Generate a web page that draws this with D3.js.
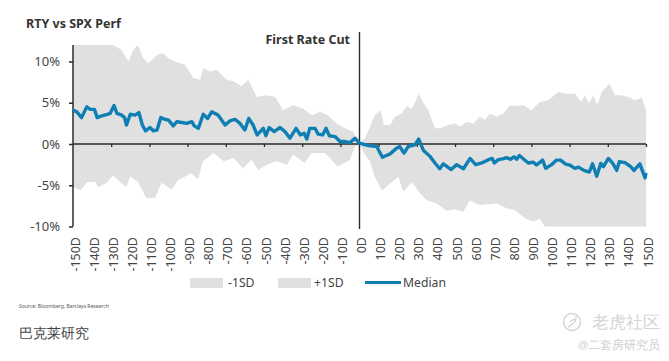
<!DOCTYPE html>
<html>
<head>
<meta charset="utf-8">
<script src="https://cdnjs.cloudflare.com/ajax/libs/d3/7.8.5/d3.min.js"></script>
<style>
  html, body { margin: 0; padding: 0; background: #fff; }
  text { font-family: "Noto Sans", "Open Sans", sans-serif; }
</style>
</head>
<body>
<div id="chart"></div>
<script>
// values, in % against days from the first cut
const medianDays = [-150,-148,-145.5,-142.8,-141,-138.8,-137.3,-135,-132,-130.6,-128.5,-127,-124.5,-123,-122,-120,-117.5,-115.5,-113.7,-112,-109.7,-108,-106,-104,-102,-100,-97.5,-95.7,-93,-90.5,-87.8,-86.5,-84.4,-81.8,-79.5,-77.4,-74,-70.4,-67.8,-65.2,-62.6,-60,-58,-55.7,-53.6,-50.4,-49,-47.3,-44.7,-41.6,-39,-36.4,-33.2,-31,-29,-27.6,-26,-23.3,-21.7,-19.3,-17.5,-15.8,-12.8,-10.2,-7.6,-5,-2.4,0,4.6,9,12,16,19.5,21,23.3,25.5,29,31,33.4,36.9,39.5,42,43.9,48,50.9,54.4,57.9,60.8,64,67.5,69.5,70.6,72.7,75,77,79,80.9,82.3,83.7,86,88.4,91,92.7,95.9,97.5,100.6,103.2,105.3,107.6,110,112.8,114.6,117.5,120.3,122,124.2,126.3,127.7,130.3,132.6,134.7,136,139,142,143.7,146.8,149.5,150];
const medianVals = [4.1,3.9,3.2,4.5,4.2,4.2,3.2,3.4,3.6,3.7,4.65,3.7,3.5,3.2,2.3,3.6,3.5,3.8,2.3,1.6,2,1.6,1.7,3.2,3,2.9,2.2,2.7,2.6,2.5,2.7,2.2,1.9,3.6,3.1,3.9,3.5,2.3,2.8,3,2.5,1.7,3.1,2.3,1.1,1.9,1,2,1.5,2,1.5,0.7,1.9,1.1,1.3,0.6,1.9,1.9,1.2,1.1,1.9,1,0.9,0.3,0.3,0.15,0.7,0.1,-0.2,-0.3,-1.6,-1.2,-0.5,-0.3,-1.1,-0.3,-0.1,0.6,-0.75,-1.5,-2.3,-3,-2.4,-3.1,-2.5,-3,-1.75,-2.5,-2.3,-1.9,-1.75,-2.3,-1.9,-1.8,-1.65,-1.85,-1.55,-1.85,-1.4,-1.85,-2.3,-2.2,-2.55,-1.95,-2.95,-2.5,-1.95,-1.95,-2.4,-2.55,-2.95,-2.8,-3.2,-3.4,-2.4,-3.9,-2.35,-2.75,-1.75,-2.35,-3.2,-2.15,-2.25,-2.75,-3.2,-2.4,-4.1,-3.5];

const plusDays = [-150,-129,-124.5,-121,-118.5,-116,-113.2,-110.6,-106,-102.8,-100,-96.6,-91.3,-87,-83.4,-81.8,-78.2,-74.8,-69.5,-66,-61.7,-58.3,-53.8,-48.6,-44.2,-40,-34.8,-29.5,-25,-20.7,-16.5,-12,-7.6,-3.3,0,2.9,5.5,8,11,12.8,16,18.6,22,24.7,27.3,29,31,33.4,36,39.5,42,46.5,50,52.6,56,59.6,63,65.7,68.3,71.8,75.3,78.8,82.3,85.8,90,94.5,98.9,104,108.5,112.8,116,118,120,122.4,124.5,126.8,130.8,133.8,137,140.8,144.3,147.8,150];
const plusVals = [12,12,11.4,10,11.4,12,10.4,9.8,10.8,11,10.4,10,9.6,8,7.8,9.2,8.8,9,7.8,7.6,7,7.8,5.7,5.9,5.7,4.1,4.7,4.3,3.5,3.9,3.5,2.5,1.9,1.5,0.1,0.7,2.1,3.5,4.1,2.3,2.3,3.3,3.7,4.6,4.3,5,6.1,5,4.1,1.9,1.9,2.3,2.5,2.1,2.7,2.5,3.3,2.9,3.7,3.3,3.7,4.7,4.6,4.7,4.1,5.1,5.3,6.3,6.1,6.1,5.1,5.9,4.9,5.9,4.7,6.3,7.3,5.9,5.9,5.7,5.3,5.6,4.1];

const minusDays = [-150,-146,-142.5,-138.4,-136.7,-132.4,-129,-125.4,-122,-120,-116,-111.5,-107,-103.6,-98.4,-95,-88,-84.5,-82,-76.5,-71,-66,-61,-56.5,-53,-48.6,-43.4,-38,-34.8,-28.7,-25,-18,-11.3,-5,-2.4,0,2.9,5.5,8,11.9,16,20.3,23,27.3,31.7,35,40.4,45.6,50,54.3,57.8,63,71.8,77,81.4,86.6,91,94.5,97,150];
const minusVals = [-5.2,-5.6,-4.6,-4.6,-5.25,-4.7,-3.8,-4.6,-5.2,-3.9,-4.6,-6.6,-6.5,-4.7,-5.5,-4.4,-3.55,-4.3,-2.1,-1.1,-2.1,-1.7,-2.95,-1.9,-3.15,-2.5,-2.1,-2.5,-1.3,-2.3,-1.1,-1.1,-2.75,-1.9,-0.3,0,-1.3,-2.1,-4,-5.65,-4.8,-4,-5.8,-4.6,-6,-6.8,-7.2,-8.1,-7.9,-8.2,-6.85,-7.4,-7.2,-7.8,-8,-9,-9.4,-9.1,-10,-10];

const yTicks = [10, 5, 0, -5, -10];
const axisTicks = [-130,-110,-90,-70,-50,-30,-10,10,30,50,70,90,110,130,150];
const dayLabels = d3.range(-150, 151, 10);
const legendItems = ["-1SD", "+1SD", "Median"];

const width = 669, height = 361;
const gray = "#e0e0e0", blue = "#0f7fb3", dark = "#2b2b2b", textCol = "#444";

const svg = d3.select("#chart").append("svg")
    .attr("width", width)
    .attr("height", height)
    .style("display", "block");

const x = d3.scaleLinear().domain([-150, 150]).range([73, 646]);
const y = d3.scaleLinear().domain([-10, 10]).range([226.5, 61.5]);

const band = (days, vals) => d3.area()
    .x((d, i) => x(days[i]))
    .y0(y(0))
    .y1(d => y(d))(vals);

svg.append("path").attr("d", band(plusDays, plusVals)).attr("fill", gray);
svg.append("path").attr("d", band(minusDays, minusVals)).attr("fill", gray);

// y axis
const yAxis = d3.axisLeft(y)
    .tickValues(yTicks)
    .tickSize(4)
    .tickPadding(9)
    .tickFormat(d => d + "%");
const yG = svg.append("g").attr("transform", "translate(73,0)").call(yAxis);
yG.select(".domain").attr("d", `M0,${y(12)}V${y(-10)}`).attr("stroke", dark).attr("stroke-width", 1.5);
yG.selectAll("line").attr("stroke", dark).attr("stroke-width", 1.5);
yG.selectAll("text").attr("font-size", 13).attr("fill", textCol);

// zero line with ticks every 20 days
const zeroAxis = d3.axisBottom(x).tickValues(axisTicks).tickSize(3).tickFormat("");
const zeroG = svg.append("g").attr("transform", `translate(0,${y(0)})`).call(zeroAxis);
zeroG.select(".domain").attr("d", `M${x(-150)},0H${x(150)}`).attr("stroke", dark).attr("stroke-width", 1.3);
zeroG.selectAll("line").attr("stroke", dark).attr("stroke-width", 1.3);

// rotated day labels
svg.append("g").selectAll("text")
    .data(dayLabels)
    .enter().append("text")
    .attr("transform", d => `translate(${x(d) + 6.5},237) rotate(-90)`)
    .attr("text-anchor", "end")
    .attr("font-size", 12.5)
    .attr("fill", textCol)
    .text(d => d + "D");

// first rate cut marker
svg.append("line")
    .attr("x1", x(0)).attr("x2", x(0))
    .attr("y1", 32).attr("y2", 229)
    .attr("stroke", dark).attr("stroke-width", 1.4);
svg.append("text")
    .attr("x", 350).attr("y", 44)
    .attr("text-anchor", "end")
    .attr("font-size", 12.5).attr("font-weight", 700).attr("fill", "#333")
    .text("First Rate Cut");

const line = d3.line().x((d, i) => x(medianDays[i])).y(d => y(d));
svg.append("path")
    .attr("d", line(medianVals))
    .attr("fill", "none")
    .attr("stroke", blue)
    .attr("stroke-width", 3.4)
    .attr("stroke-linejoin", "round");

// title
svg.append("text")
    .attr("x", 26).attr("y", 28)
    .attr("font-size", 12.5).attr("font-weight", 700).attr("fill", "#333")
    .text("RTY vs SPX Perf");

// legend
const legendX = [190, 278, 365];
const legendTextX = [228, 314, 403];
legendItems.forEach((name, i) => {
  if (name === "Median") {
    svg.append("line")
        .attr("x1", legendX[i]).attr("x2", legendX[i] + 36)
        .attr("y1", 282.5).attr("y2", 282.5)
        .attr("stroke", blue).attr("stroke-width", 3);
  } else {
    svg.append("rect")
        .attr("x", legendX[i]).attr("y", 278)
        .attr("width", 33).attr("height", 10)
        .attr("fill", gray);
  }
  svg.append("text")
      .attr("x", legendTextX[i]).attr("y", 287)
      .attr("font-size", 12.2).attr("fill", textCol)
      .text(name);
});

// source and captions
svg.append("text")
    .attr("x", 19).attr("y", 308)
    .attr("font-size", 5).attr("fill", "#555")
    .text("Source: Bloomberg, Barclays Research");
svg.append("text")
    .attr("x", 19).attr("y", 338)
    .attr("font-family", "'Noto Sans CJK SC'")
    .attr("font-size", 14).attr("font-weight", 300).attr("fill", "#444")
    .text("巴克莱研究");

// watermark
svg.append("circle")
    .attr("cx", 572).attr("cy", 322).attr("r", 8.5)
    .attr("fill", "none").attr("stroke", "#d4d4d4").attr("stroke-width", 1.4);
svg.append("path")
    .attr("d", "M568,327C572,325 577,321 576,316M570,322C572,320 574,319 575,320")
    .attr("fill", "none").attr("stroke", "#d4d4d4").attr("stroke-width", 1.4);
svg.append("text")
    .attr("x", 592).attr("y", 328)
    .attr("font-family", "'Noto Sans CJK SC'")
    .attr("font-size", 16.5).attr("fill", "#d4d4d4")
    .text("老虎社区");
svg.append("text")
    .attr("x", 578).attr("y", 349)
    .attr("font-family", "'Noto Sans CJK SC'")
    .attr("font-size", 11.5).attr("fill", "#cfcfcf")
    .text("@二套房研究员");
</script>
</body>
</html>
